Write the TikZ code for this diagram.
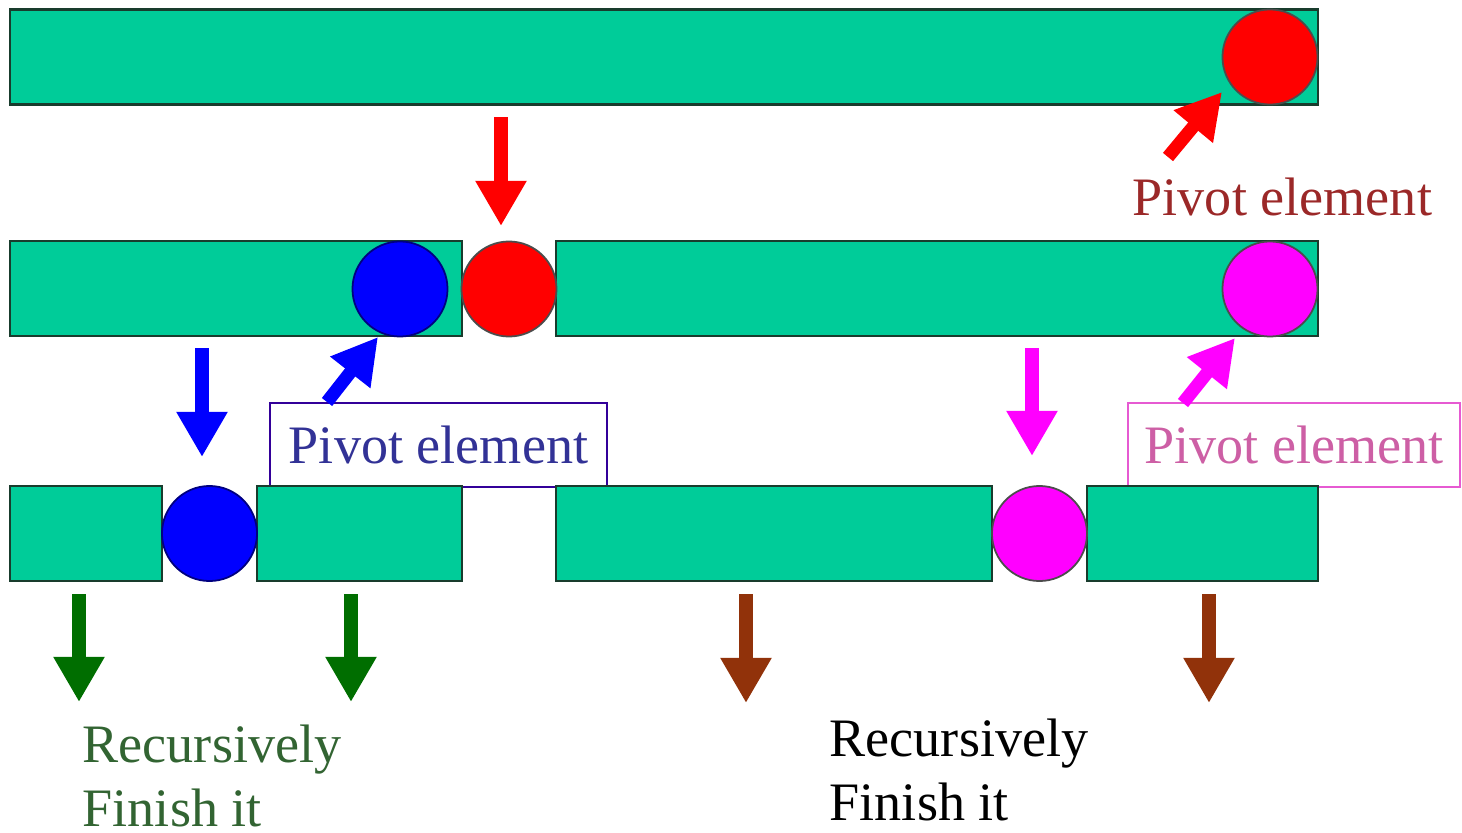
\documentclass[tikz,border=0pt]{standalone}
\usepackage{fontspec}
\setmainfont{Liberation Serif}
\usepackage{tikz}
\usetikzlibrary{arrows.meta}

\definecolor{barteal}{RGB}{0,204,153}
\definecolor{barline}{RGB}{25,60,45}
\definecolor{pivred}{RGB}{255,0,0}
\definecolor{pivblue}{RGB}{0,0,255}
\definecolor{pivmag}{RGB}{255,0,255}
\definecolor{arrgreen}{RGB}{0,110,0}
\definecolor{arrbrown}{RGB}{145,50,10}
\definecolor{txtred}{RGB}{155,40,40}
\definecolor{txtblue}{RGB}{50,50,150}
\definecolor{txtmag}{RGB}{205,95,165}
\definecolor{txtgreen}{RGB}{50,100,50}
\definecolor{boxblue}{RGB}{51,0,153}
\definecolor{boxmag}{RGB}{230,90,210}

\begin{document}
\begin{tikzpicture}[x=0.01cm,y=-0.01cm,
	bar/.style={draw=barline, fill=barteal, line width=0.6pt, inner sep=0pt, minimum height=0.95cm},
	pivot/.style={circle, draw=black!70, line width=0.5pt, inner sep=0pt, minimum size=0.95cm},
	bigarrow/.style={line width=3.7pt, -{Triangle[width=0.48cm,length=0.45cm]}},
	lbl/.style={font=\fontsize{15.4}{18.2}\selectfont, inner sep=0pt},
	lblbox/.style={lbl, draw, line width=0.6pt, fill=white, minimum height=0.84cm}]
	\useasboundingbox (0,0) rectangle (1462,833);
	% first row
	\node [bar, minimum width=13.08cm] (row1) at (664,57) {};
	\node [pivot, fill=pivred] (red1) at (1270,57) {};
	% second row
	\node [bar, minimum width=4.52cm] (row2a) at (236,288.5) {};
	\node [bar, minimum width=7.62cm] (row2b) at (937,288.5) {};
	\node [pivot, fill=pivblue, draw=blue!50!black] (blue1) at (400,289) {};
	\node [pivot, fill=pivred] (red2) at (509,289) {};
	\node [pivot, fill=pivmag] (mag1) at (1270,289) {};
	% labels
	\node [lbl, text=txtred, anchor=base west] (redlbl) at (1132,215) {Pivot element};
	\node [lblbox, draw=boxblue, text=txtblue, minimum width=3.37cm] (bluelbl) at (438.5,445) {Pivot element};
	\node [lblbox, draw=boxmag, text=txtmag, minimum width=3.32cm] (maglbl) at (1294,445) {Pivot element};
	% third row
	\node [bar, minimum width=1.52cm] (row3a) at (86,533.5) {};
	\node [bar, minimum width=2.05cm] (row3b) at (359.5,533.5) {};
	\node [bar, minimum width=4.36cm] (row3c) at (774,533.5) {};
	\node [bar, minimum width=2.31cm] (row3d) at (1202.5,533.5) {};
	\node [pivot, fill=pivblue, draw=blue!50!black] (blue2) at (209.5,533.5) {};
	\node [pivot, fill=pivmag] (mag2) at (1039.5,533.5) {};
	% arrow ends
	\coordinate (rdA) at (501,117);  \coordinate (rdB) at (501,226);
	\coordinate (rsA) at (1168,157); \coordinate (rsB) at (1222,92);
	\coordinate (bdA) at (202,348);  \coordinate (bdB) at (202,457);
	\coordinate (bsA) at (327,402);  \coordinate (bsB) at (378,337);
	\coordinate (mdA) at (1032,348); \coordinate (mdB) at (1032,456);
	\coordinate (msA) at (1183,403); \coordinate (msB) at (1235,338);
	\coordinate (gaA) at (79,594);   \coordinate (gaB) at (79,702);
	\coordinate (gbA) at (351,594);  \coordinate (gbB) at (351,702);
	\coordinate (baA) at (746,594);  \coordinate (baB) at (746,703);
	\coordinate (bbA) at (1209,594); \coordinate (bbB) at (1209,703);
	% arrows
	\draw [bigarrow, pivred] (rdA) -- (rdB);
	\draw [bigarrow, pivred] (rsA) -- (rsB);
	\draw [bigarrow, pivblue] (bdA) -- (bdB);
	\draw [bigarrow, pivblue] (bsA) -- (bsB);
	\draw [bigarrow, pivmag] (mdA) -- (mdB);
	\draw [bigarrow, pivmag] (msA) -- (msB);
	\draw [bigarrow, arrgreen] (gaA) -- (gaB);
	\draw [bigarrow, arrgreen] (gbA) -- (gbB);
	\draw [bigarrow, arrbrown] (baA) -- (baB);
	\draw [bigarrow, arrbrown] (bbA) -- (bbB);
	% closing texts (base is the last line)
	\node [lbl, text=txtgreen, align=left, anchor=base west] (greentxt) at (82,826) {Recursively\\Finish it};
	\node [lbl, text=black, align=left, anchor=base west] (blacktxt) at (829,820) {Recursively\\Finish it};
\end{tikzpicture}
\end{document}
